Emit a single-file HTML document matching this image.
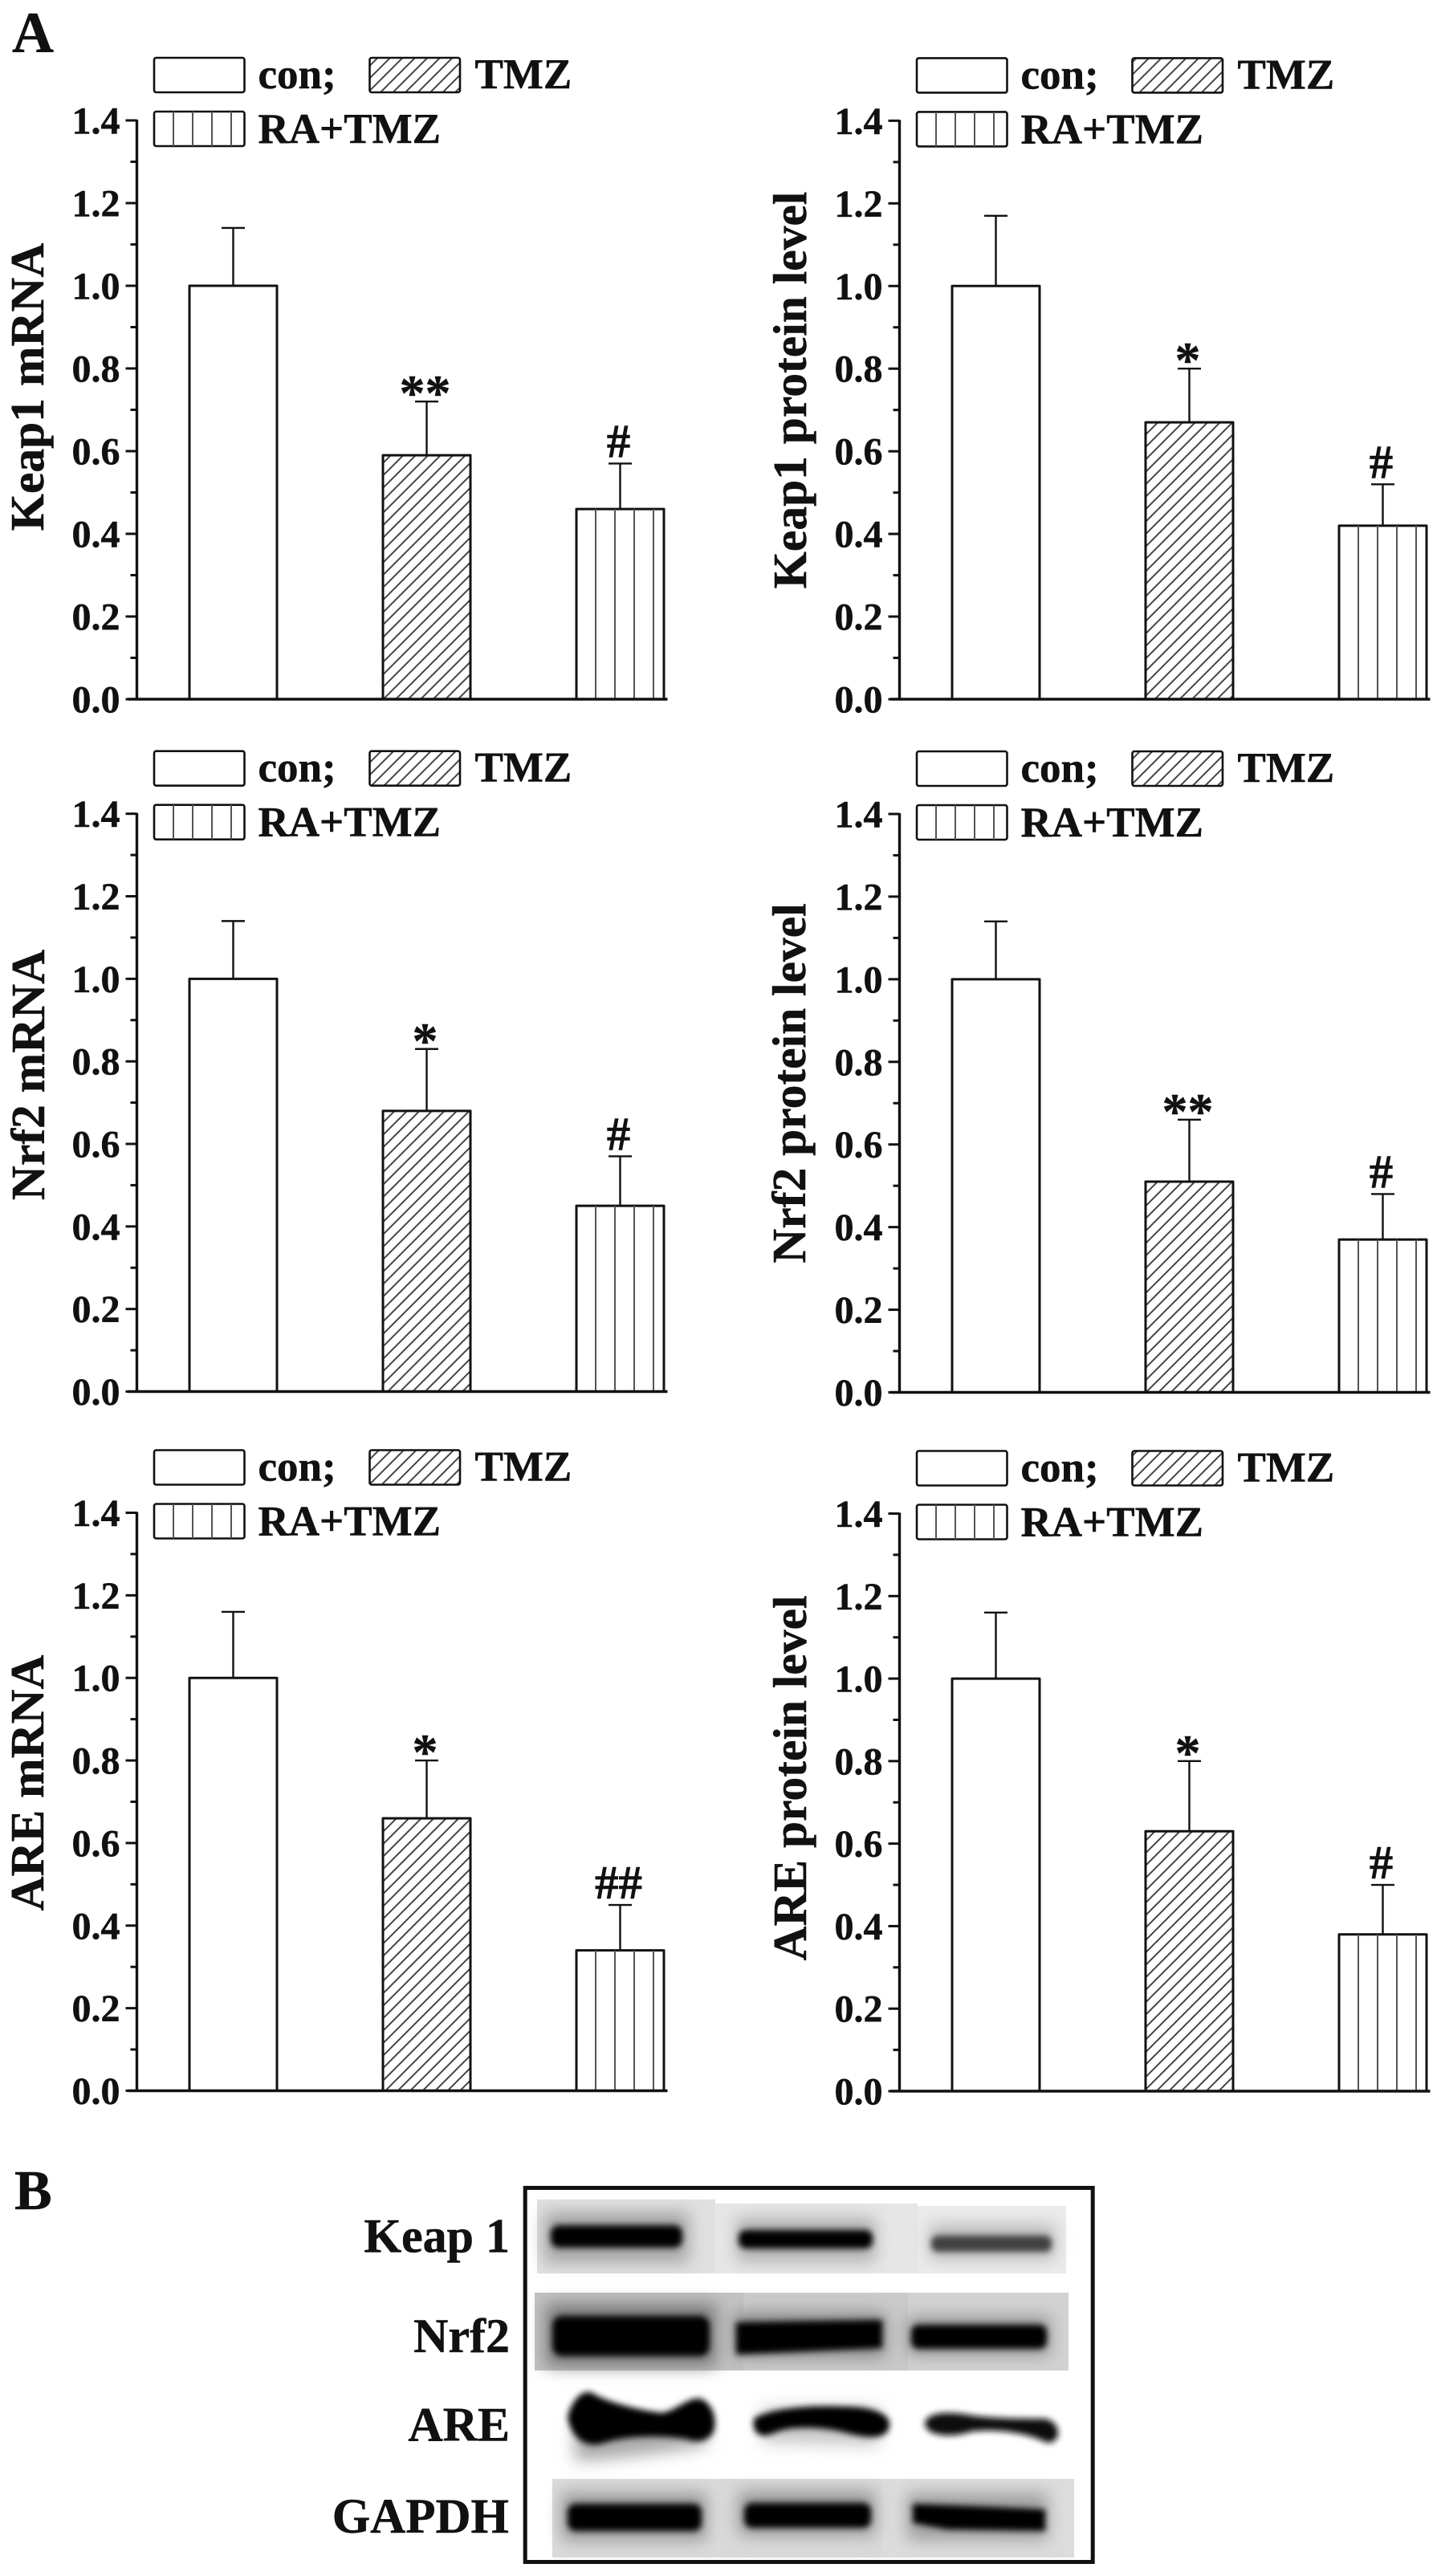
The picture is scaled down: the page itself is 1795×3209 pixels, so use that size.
<!DOCTYPE html>
<html lang="en">
<head>
<meta charset="utf-8">
<title>Keap1, Nrf2 and ARE expression</title>
<style>
html,body{margin:0;padding:0;background:#fff;}
svg{display:block;}
text{font-family:"Liberation Serif","Times New Roman",serif;font-weight:bold;fill:#111;stroke:#111;stroke-width:0.5px;}
</style>
</head>
<body>
<svg id="figure" xmlns="http://www.w3.org/2000/svg" width="1795" height="3209" viewBox="0 0 1795 3209">
  <defs>
    <pattern id="hatch" patternUnits="userSpaceOnUse" width="15.5" height="15.5">
      <path d="M-2,17.5 L17.5,-2 M-2,2 L2,-2 M13.5,17.5 L17.5,13.5" stroke="#444" stroke-width="2" fill="none"/>
    </pattern>
    <filter id="soft" x="-30%" y="-80%" width="160%" height="260%"><feGaussianBlur stdDeviation="4"/></filter>
    <filter id="softer" x="-30%" y="-100%" width="160%" height="300%"><feGaussianBlur stdDeviation="10"/></filter>
  </defs>
  <rect width="1795" height="3209" fill="#fff"/>
  <text x="15" y="65" font-size="72">A</text>
  <g id="charts"></g>

  <text x="18" y="2752" font-size="70">B</text>
  <g>
    <text x="635" y="2805.5" font-size="60" text-anchor="end">Keap 1</text>
    <text x="635" y="2930" font-size="60" text-anchor="end">Nrf2</text>
    <text x="635" y="3040.5" font-size="60" text-anchor="end">ARE</text>
    <text x="634" y="3155" font-size="61" text-anchor="end">GAPDH</text>
  </g>
  <g>
    <g>
      <rect x="669" y="2740" width="222" height="92" fill="#e0e0e0"/>
      <rect x="891" y="2745" width="252" height="87" fill="#e6e6e6"/>
      <rect x="1143" y="2748" width="185" height="84" fill="#ebebeb"/>
      <rect x="678" y="2756" width="180" height="62" fill="#a4a4a4" filter="url(#softer)"/>
      <rect x="918" y="2764" width="172" height="52" fill="#acacac" filter="url(#softer)"/>
      <rect x="1158" y="2772" width="156" height="42" fill="#b8b8b8" filter="url(#softer)"/>
      <rect x="686" y="2772" width="164" height="28" rx="10" fill="#000" filter="url(#soft)"/>
      <rect x="920" y="2778" width="167" height="23" rx="9" fill="#000" filter="url(#soft)"/>
      <rect x="1160" y="2785" width="150" height="20" rx="8" fill="#404040" filter="url(#soft)"/>
    </g>
    <g>
      <rect x="666" y="2856" width="260" height="97" fill="#c2c2c2"/>
      <rect x="926" y="2856" width="205" height="97" fill="#cacaca"/>
      <rect x="1131" y="2856" width="200" height="97" fill="#d2d2d2"/>
      <rect x="680" y="2870" width="212" height="78" fill="#7a7a7a" filter="url(#softer)"/>
      <rect x="915" y="2882" width="188" height="54" fill="#858585" filter="url(#softer)"/>
      <rect x="1130" y="2886" width="178" height="48" fill="#959595" filter="url(#softer)"/>
      <rect x="688" y="2885" width="196" height="50" rx="12" fill="#000" filter="url(#soft)"/>
      <path d="M917,2893 L1099,2890 L1099,2925 L917,2933 Z" fill="#000" filter="url(#soft)"/>
      <rect x="1135" y="2896" width="169" height="30" rx="9" fill="#000" filter="url(#soft)"/>
    </g>
    <g>
      <path d="M716,3065 C740,3067 850,3052 880,3046 L880,3020 L716,3020 Z" fill="#a8a8a8" filter="url(#softer)"/>
      <path d="M950,3042 L1095,3046 L1095,3000 L950,3000 Z" fill="#c4c4c4" filter="url(#softer)"/>
      <path d="M711,3012 C714,2996 725,2982 735,2984 C750,2994 790,3006 825,3010 C845,3006 858,2990 872,2992 C884,2998 888,3012 886,3024 C884,3036 870,3040 855,3034 C820,3030 785,3030 755,3038 C735,3046 718,3040 711,3012 Z" fill="#000" stroke="#000" stroke-width="8" filter="url(#soft)"/>
      <path d="M943,3015 C965,3004 1010,3000 1050,3002 C1085,3002 1104,3010 1104,3020 C1104,3034 1085,3034 1060,3028 C1025,3018 985,3018 965,3026 C950,3034 941,3030 943,3015 Z" fill="#000" stroke="#000" stroke-width="8" filter="url(#soft)"/>
      <path d="M1155,3018 C1160,3006 1190,3008 1210,3012 C1240,3016 1275,3016 1300,3016 C1318,3018 1320,3040 1305,3040 C1285,3030 1250,3022 1210,3026 C1185,3034 1155,3032 1155,3018 Z" fill="#111" stroke="#111" stroke-width="6" filter="url(#soft)"/>
    </g>
    <g>
      <rect x="688" y="3088" width="210" height="98" fill="#dadada"/>
      <rect x="898" y="3088" width="200" height="98" fill="#d9d9d9"/>
      <rect x="1098" y="3088" width="240" height="98" fill="#dcdcdc"/>
      <rect x="700" y="3106" width="180" height="58" fill="#969696" filter="url(#softer)"/>
      <rect x="920" y="3104" width="170" height="54" fill="#969696" filter="url(#softer)"/>
      <rect x="1130" y="3106" width="175" height="58" fill="#9e9e9e" filter="url(#softer)"/>
      <rect x="707" y="3119" width="167" height="34" rx="10" fill="#000" filter="url(#soft)"/>
      <rect x="927" y="3118" width="158" height="31" rx="10" fill="#000" filter="url(#soft)"/>
      <path d="M1137,3119 L1240,3123 L1302,3126 L1302,3153 L1180,3151 L1137,3143 Z" fill="#000" filter="url(#soft)"/>
    </g>
    <rect x="654.2" y="2725.5" width="707" height="466" fill="none" stroke="#111" stroke-width="5"/>
  </g>
</svg>
<script>
// ---- data ----
const categories = ['con', 'TMZ', 'RA+TMZ'];
const legendLabels = ['con;', 'TMZ', 'RA+TMZ'];
const yTickValues = [0, 0.2, 0.4, 0.6, 0.8, 1.0, 1.2, 1.4];
const yTickLabels = ['0.0', '0.2', '0.4', '0.6', '0.8', '1.0', '1.2', '1.4'];
const yMinorValues = [0.1, 0.3, 0.5, 0.7, 0.9, 1.1, 1.3];
const yMax = 1.4;

const keap1MrnaMeans = [1.00, 0.59, 0.46];
const keap1MrnaErrors = [1.14, 0.72, 0.57];
const keap1MrnaMarks = ['', '**', '#'];

const keap1ProteinMeans = [1.00, 0.67, 0.42];
const keap1ProteinErrors = [1.17, 0.80, 0.52];
const keap1ProteinMarks = ['', '*', '#'];

const nrf2MrnaMeans = [1.00, 0.68, 0.45];
const nrf2MrnaErrors = [1.14, 0.83, 0.57];
const nrf2MrnaMarks = ['', '*', '#'];

const nrf2ProteinMeans = [1.00, 0.51, 0.37];
const nrf2ProteinErrors = [1.14, 0.66, 0.48];
const nrf2ProteinMarks = ['', '**', '#'];

const areMrnaMeans = [1.00, 0.66, 0.34];
const areMrnaErrors = [1.16, 0.80, 0.45];
const areMrnaMarks = ['', '*', '##'];

const areProteinMeans = [1.00, 0.63, 0.38];
const areProteinErrors = [1.16, 0.80, 0.50];
const areProteinMarks = ['', '*', '#'];

// ---- panels: which data goes where ----
const panels = [
  {id:'keap1-mrna', title:'Keap1 mRNA', means:keap1MrnaMeans, errors:keap1MrnaErrors, marks:keap1MrnaMarks, axisX:170.5, top:150, bottom:871, titleX:54, titleY:482},
  {id:'keap1-protein', title:'Keap1 protein level', means:keap1ProteinMeans, errors:keap1ProteinErrors, marks:keap1ProteinMarks, axisX:1120.5, top:150.4, bottom:871, titleX:1004, titleY:486},
  {id:'nrf2-mrna', title:'Nrf2 mRNA', means:nrf2MrnaMeans, errors:nrf2MrnaErrors, marks:nrf2MrnaMarks, axisX:170.5, top:1013.7, bottom:1733.5, titleX:55, titleY:1339},
  {id:'nrf2-protein', title:'Nrf2 protein level', means:nrf2ProteinMeans, errors:nrf2ProteinErrors, marks:nrf2ProteinMarks, axisX:1120.5, top:1014, bottom:1734.5, titleX:1003, titleY:1349.5},
  {id:'are-mrna', title:'ARE mRNA', means:areMrnaMeans, errors:areMrnaErrors, marks:areMrnaMarks, axisX:170.5, top:1884.5, bottom:2604.5, titleX:54, titleY:2221},
  {id:'are-protein', title:'ARE protein level', means:areProteinMeans, errors:areProteinErrors, marks:areProteinMarks, axisX:1120.5, top:1885.5, bottom:2605, titleX:1004, titleY:2215}
];

const SVGNS = 'http://www.w3.org/2000/svg';
const INK = '#111';

function make(tag, attrs, parent, content) {
  const node = document.createElementNS(SVGNS, tag);
  for (const key in attrs) node.setAttribute(key, attrs[key]);
  if (content !== undefined) node.textContent = content;
  parent.appendChild(node);
  return node;
}
function yScale(panel, value) {
  return panel.bottom - (value / yMax) * (panel.bottom - panel.top);
}
function xBandLeft(panel, index) {
  return panel.axisX + 65.5 + index * 241;
}
const BAR_WIDTH = 109;

function fillStripes(parent, left, top, width, height) {
  for (let dx = 24; dx < width; dx += 24) {
    const stripe = make('line', {x1:left + dx, x2:left + dx, y1:top, y2:top + height, stroke:'#555', 'stroke-width':2}, parent);
    
    
  }
}

function drawLegend(panel, g) {
  const legend = make('g', {}, g);
  
  
  const ax = panel.axisX, t = panel.top;
  const offsets = [[21.5, -78], [290, -78], [21.5, -11]];
  const textOffsets = [[151, -40], [421, -40], [151, 28]];
  legendLabels.forEach(function (label, i) {
    const left = ax + offsets[i][0], top = t + offsets[i][1];
    const fill = i === 1 ? 'url(#hatch)' : '#fff';
    const swatch = make('rect', {x:left, y:top, width:112.5, height:43, rx:2.5, fill:fill, stroke:INK, 'stroke-width':2.6}, legend);
    
    
    if (i === 2) fillStripes(legend, left, top, 112.5, 43);
    const entry = make('text', {x:ax + textOffsets[i][0], y:t + textOffsets[i][1], 'font-size':53}, legend, label);
    
    
  });
}

function drawAxes(panel, g) {
  const ax = panel.axisX;
  const axes = make('g', {stroke:INK}, g);
  
  
  const yAxis = make('line', {x1:ax, x2:ax, y1:panel.top - 1, y2:panel.bottom, 'stroke-width':3.4}, axes);
  
  
  const xAxis = make('line', {x1:ax - 11, x2:ax + 661, y1:panel.bottom, y2:panel.bottom, 'stroke-width':3.4}, axes);
  
  
  yTickValues.forEach(function (value, i) {
    const y = yScale(panel, value);
    const tick = make('line', {x1:ax - 14, x2:ax, y1:y, y2:y, 'stroke-width':3}, axes);
    
    
    const label = make('text', {x:ax - 21, y:y + 16.5, 'font-size':48, 'text-anchor':'end'}, g, yTickLabels[i]);
    
    
  });
  yMinorValues.forEach(function (value) {
    const y = yScale(panel, value);
    const minor = make('line', {x1:ax - 8, x2:ax, y1:y, y2:y, 'stroke-width':3}, axes);
    
    
  });
  const title = make('text', {x:panel.titleX, y:panel.titleY, 'font-size':59.5, 'text-anchor':'middle', transform:'rotate(-90 ' + panel.titleX + ' ' + panel.titleY + ')'}, g, panel.title);
  
  
}

function drawBars(panel, g) {
  categories.forEach(function (category, i) {
    const left = xBandLeft(panel, i);
    const cx = left + BAR_WIDTH / 2;
    const yTop = yScale(panel, panel.means[i]);
    const yErr = yScale(panel, panel.errors[i]);
    const h = panel.bottom - yTop;
    const group = make('g', {}, g);
    
    

    const stem = make('line', {x1:cx, x2:cx, y1:yTop, y2:yErr, stroke:INK, 'stroke-width':2.4}, group);
    
    
    const cap = make('line', {x1:cx - 14.5, x2:cx + 14.5, y1:yErr, y2:yErr, stroke:INK, 'stroke-width':2.4}, group);
    
    

    const fill = i === 1 ? 'url(#hatch)' : '#fff';
    const bar = make('rect', {x:left, y:yTop, width:BAR_WIDTH, height:h, fill:fill, stroke:INK, 'stroke-width':3, 'stroke-linejoin':'round'}, group);
    
    
    if (i === 2) fillStripes(group, left, yTop, BAR_WIDTH, h);

    const mark = panel.marks[i];
    if (mark) {
      const isStar = mark.charAt(0) === '*';
      const baseline = isStar ? yErr + 11 : yErr - 8;
      const sig = make('text', {x:cx - 2, y:baseline, 'font-size':isStar ? 64 : 59, 'text-anchor':'middle'}, group, mark);
      
      
    }
  });
}

const root = document.getElementById('charts');
panels.forEach(function (panel) {
  const g = make('g', {}, root);
  
  
  drawBars(panel, g);
  drawAxes(panel, g);
  drawLegend(panel, g);
});
</script>
</body>
</html>
